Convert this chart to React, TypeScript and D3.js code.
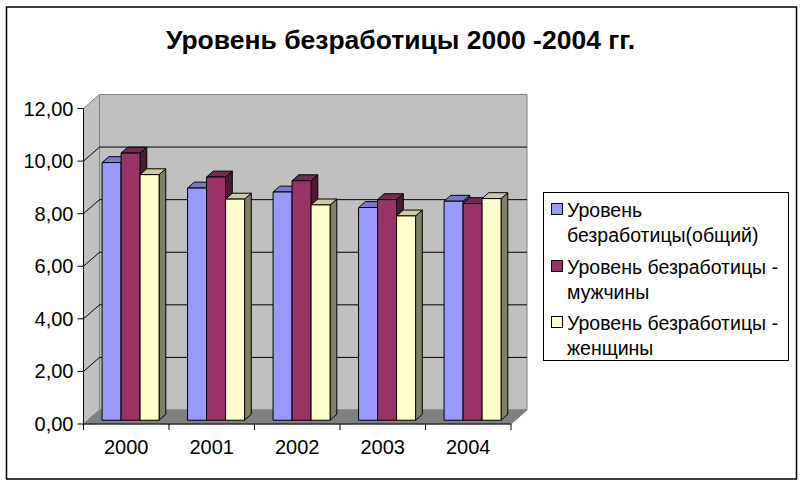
import React, { useLayoutEffect, useRef } from 'react';
import * as d3 from 'd3';

const categories = ['2000', '2001', '2002', '2003', '2004'];
const seriesNames = [
  ['Уровень', 'безработицы(общий)'],
  ['Уровень безработицы -', 'мужчины'],
  ['Уровень безработицы -', 'женщины'],
];
const totalRate = [9.8, 8.83, 8.68, 8.09, 8.33];
const maleRate = [10.16, 9.25, 9.11, 8.39, 8.24];
const femaleRate = [9.34, 8.41, 8.19, 7.77, 8.43];
const yTicks = [0, 2, 4, 6, 8, 10, 12];
const title = 'Уровень безработицы 2000 -2004 гг.';

const colors = ['#9999ff', '#993366', '#ffffcc'];

const W = 803;
const H = 486;
const FONT = '"Liberation Sans", Arial, sans-serif';

const draw = (el: SVGSVGElement) => {
  const svg = d3.select(el);
  svg.selectAll('*').remove();

  const x0 = 83.5;
  const x1 = 511;
  const DX = 16;
  const DY = -14;

  const y = d3.scaleLinear().domain([0, 12]).range([424, 108.5]);
  const x = d3.scaleBand<string>().domain(categories).range([x0, x1]).paddingInner(0).paddingOuter(0);

  svg
    .append('rect')
    .attr('x', 6.5)
    .attr('y', 7)
    .attr('width', 790)
    .attr('height', 472)
    .attr('fill', 'white')
    .attr('stroke', 'black')
    .attr('stroke-width', 1.5);

  svg
    .append('text')
    .attr('x', 400.5)
    .attr('y', 49)
    .attr('text-anchor', 'middle')
    .attr('font-family', FONT)
    .attr('font-weight', 'bold')
    .attr('font-size', 26.5)
    .text(title);

  const pts = (p: [number, number][]) => p.map((d) => d.join(',')).join(' ');
  const yTop = y(12);
  const yBot = y(0);

  // walls and floor
  svg
    .append('polygon')
    .attr('points', pts([[x0 + DX, yTop + DY], [x1 + DX, yTop + DY], [x1 + DX, yBot + DY], [x0 + DX, yBot + DY]]))
    .attr('fill', '#c0c0c0')
    .attr('stroke', '#808080');
  svg
    .append('polygon')
    .attr('points', pts([[x0, yTop], [x0 + DX, yTop + DY], [x0 + DX, yBot + DY], [x0, yBot]]))
    .attr('fill', '#c0c0c0')
    .attr('stroke', '#808080');
  svg
    .append('polygon')
    .attr('points', pts([[x0, yBot], [x1, yBot], [x1 + DX, yBot + DY], [x0 + DX, yBot + DY]]))
    .attr('fill', '#808080')
    .attr('stroke', '#808080');

  // gridlines
  const grid = svg.append('g').attr('stroke', 'black').attr('fill', 'none');
  yTicks
    .filter((t) => t > 0 && t < 12)
    .forEach((t) => {
      grid
        .append('polyline')
        .attr('points', pts([[x0, y(t)], [x0 + DX, y(t) + DY], [x1 + DX, y(t) + DY]]));
    });

  // bars
  const step = x.step();
  const bw = step / 4.5;
  const fx = 0.27 * DX;
  const fy = 0.27 * DY;
  const bdx = 0.42 * DX;
  const bdy = 0.42 * DY;
  const series = [totalRate, maleRate, femaleRate];
  const shade = (c: string, k: number) => {
    const r = d3.rgb(c);
    return d3.rgb(r.r * k, r.g * k, r.b * k).toString();
  };

  const bars = svg.append('g').attr('stroke', 'black').attr('stroke-width', 1).attr('stroke-linejoin', 'round');
  categories.forEach((cat, ci) => {
    series.forEach((vals, si) => {
      const bx = (x(cat) || 0) + 0.75 * bw + si * bw + fx;
      const yt = y(vals[ci]) + fy;
      const yb = yBot + fy;
      const c = colors[si];
      bars
        .append('polygon')
        .attr('points', pts([[bx + bw, yt], [bx + bw + bdx, yt + bdy], [bx + bw + bdx, yb + bdy], [bx + bw, yb]]))
        .attr('fill', shade(c, 0.5));
      bars
        .append('polygon')
        .attr('points', pts([[bx, yt], [bx + bw, yt], [bx + bw + bdx, yt + bdy], [bx + bdx, yt + bdy]]))
        .attr('fill', shade(c, 0.8));
      bars
        .append('rect')
        .attr('x', bx)
        .attr('y', yt)
        .attr('width', bw)
        .attr('height', yb - yt)
        .attr('fill', c);
    });
  });

  // axes
  const ax = svg.append('g').attr('stroke', 'black').attr('stroke-width', 1);
  ax.append('line').attr('x1', x0).attr('x2', x0).attr('y1', yBot).attr('y2', yTop);
  ax.append('line').attr('x1', x0).attr('x2', x1).attr('y1', yBot).attr('y2', yBot);
  yTicks.forEach((t) => {
    ax.append('line').attr('x1', x0 - 6).attr('x2', x0).attr('y1', y(t)).attr('y2', y(t));
  });
  [...categories.map((c) => x(c) || 0), x1].forEach((xx) => {
    ax.append('line').attr('x1', xx).attr('x2', xx).attr('y1', yBot).attr('y2', yBot + 6);
  });

  const fmt = (v: number) => v.toFixed(2).replace('.', ',');
  svg
    .append('g')
    .selectAll('text')
    .data(yTicks)
    .join('text')
    .attr('x', x0 - 10)
    .attr('y', (d) => y(d) + 7)
    .attr('text-anchor', 'end')
    .attr('font-family', FONT)
    .attr('font-size', 20)
    .text(fmt);

  svg
    .append('g')
    .selectAll('text')
    .data(categories)
    .join('text')
    .attr('x', (d) => (x(d) || 0) + step / 2)
    .attr('y', 454)
    .attr('text-anchor', 'middle')
    .attr('font-family', FONT)
    .attr('font-size', 20)
    .text((d) => d);

  // legend
  const lg = svg.append('g');
  lg.append('rect')
    .attr('x', 543.5)
    .attr('y', 192.5)
    .attr('width', 245)
    .attr('height', 168)
    .attr('fill', 'white')
    .attr('stroke', 'black');
  const baselines = [217, 274, 330];
  seriesNames.forEach((lines, i) => {
    lg.append('rect')
      .attr('x', 551.5)
      .attr('y', baselines[i] - 13.5)
      .attr('width', 11)
      .attr('height', 11)
      .attr('fill', colors[i])
      .attr('stroke', 'black');
    lines.forEach((ln, j) => {
      lg.append('text')
        .attr('x', 567)
        .attr('y', baselines[i] + j * 25)
        .attr('font-family', FONT)
        .attr('font-size', 19.5)
        .text(ln);
    });
  });
};

export default function App() {
  const ref = useRef<SVGSVGElement>(null);
  useLayoutEffect(() => {
    if (ref.current) draw(ref.current);
  }, []);
  return (
    <svg
      ref={ref}
      width={W}
      height={H}
      style={{ position: 'absolute', left: 0, top: 0, background: 'white' }}
    />
  );
}
